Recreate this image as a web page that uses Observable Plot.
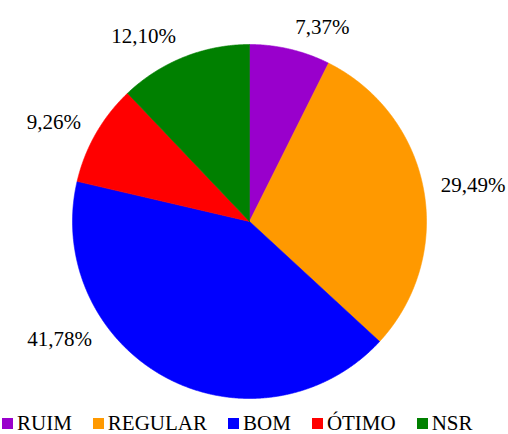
<!DOCTYPE html>
<html>
<head>
<meta charset="utf-8">
<script src="https://cdn.jsdelivr.net/npm/d3@7"></script>
<script src="https://cdn.jsdelivr.net/npm/@observablehq/plot@0.6"></script>
<style>
  html, body { margin: 0; padding: 0; background: #fff; }
  body { font-family: "Liberation Serif", Tinos, "Times New Roman", Times, "DejaVu Serif", "Liberation Sans", sans-serif; width: 508px; }
  #legend { display: flex; align-items: center; padding-left: 2px; font-size: 21px; line-height: 21px; height: 21px; color: #000; white-space: nowrap; }
  .item { display: flex; align-items: center; margin-right: 21px; }
  .sw { width: 11px; height: 11px; margin-right: 4px; flex: none; }
</style>
</head>
<body>
<div id="chart"></div>
<div id="legend"></div>
<script>
// ---- data ----
const categories = ["RUIM", "REGULAR", "BOM", "ÓTIMO", "NSR"];
const values = [7.37, 29.49, 41.78, 9.26, 12.10];
const valueLabels = ["7,37%", "29,49%", "41,78%", "9,26%", "12,10%"];
const colors = ["#9900CC", "#FF9900", "#0000FF", "#FF0000", "#008000"];

// ---- layout ----
const FONT = "'Liberation Serif', Tinos, 'Times New Roman', Times, 'DejaVu Serif', 'Liberation Sans', sans-serif";
const W = 508, H = 413, R = 177, CX = 249, CY = 221;
const labelFont = 21, labelPad = 15;
const labelMaxY = CY + 0.67 * R; // keep labels clear of the legend band (pixels)

const rows = categories.map((c, i) => ({cat: c, value: values[i], label: valueLabels[i]}));
const arcs = d3.pie().sort(null).value(d => d.value)(rows);

// slice outlines in unit-radius coordinates (y up)
const pts = [];
arcs.forEach(a => {
  const cat = a.data.cat;
  pts.push({cat, x: 0, y: 0});
  const n = Math.max(2, Math.ceil((a.endAngle - a.startAngle) / (Math.PI / 720)));
  for (let k = 0; k <= n; k++) {
    const t = a.startAngle + (a.endAngle - a.startAngle) * k / n;
    pts.push({cat, x: Math.sin(t), y: Math.cos(t)});
  }
  pts.push({cat, x: 0, y: 0});
});

// outside labels ("best fit": move along the slice away from the bottom if needed)
function labelAt(m, text) {
  const dx = Math.sin(m), dy = Math.cos(m);
  const hw = text.length * 0.55 * labelFont / 2;
  const hh = 0.38 * labelFont;
  const rr = (R + labelPad) / R;
  return {text, x: dx * rr + Math.sign(dx) * hw / R, y: dy * rr + dy * hh / R};
}
const labs = arcs.map(a => {
  let m = (a.startAngle + a.endAngle) / 2;
  const dir = m > Math.PI ? 1 : -1;
  const step = Math.PI / 360;
  let l = labelAt(m, a.data.label);
  while (CY - l.y * R > labelMaxY && m > a.startAngle + step && m < a.endAngle - step) {
    m += dir * step;
    l = labelAt(m, a.data.label);
  }
  return l;
});

const chart = Plot.plot({
  width: W,
  height: H,
  margin: 0,
  x: {domain: [-CX / R, (W - CX) / R], axis: null},
  y: {domain: [(CY - H) / R, CY / R], axis: null},
  color: {domain: categories, range: colors},
  style: {fontFamily: FONT, background: "#fff", display: "block"},
  marks: [
    Plot.line(pts, {x: "x", y: "y", z: "cat", fill: "cat", stroke: "cat", strokeWidth: 0.6}),
    Plot.text(labs, {x: "x", y: "y", text: "text", fontSize: labelFont, fill: "#000", fontFamily: FONT})
  ]
});
document.getElementById("chart").appendChild(chart);

const leg = document.getElementById("legend");
categories.forEach((c, i) => {
  const it = document.createElement("div");
  it.className = "item";
  const sw = document.createElement("span");
  sw.className = "sw";
  sw.style.background = colors[i];
  const tx = document.createElement("span");
  tx.textContent = c;
  it.appendChild(sw);
  it.appendChild(tx);
  leg.appendChild(it);
});
</script>
</body>
</html>
